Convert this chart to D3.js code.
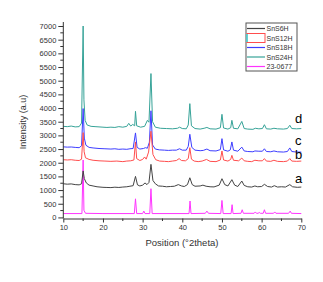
<!DOCTYPE html>
<html>
<head>
<meta charset="utf-8">
<script src="https://cdn.jsdelivr.net/npm/d3@7"></script>
<style>
  html, body { margin: 0; padding: 0; background: #fff; }
  svg { display: block; font-family: "Liberation Sans", Arial, sans-serif; }
</style>
</head>
<body>
<div id="chart"></div>
<script>
// Series names (legend order) and curve labels
const seriesNames = ["SnS6H", "SnS12H", "SnS18H", "SnS24H", "23-0677"];
const curveLabels = ["a", "b", "c", "d"];

// [2theta, intensity]
const sns6h = [[10,1230],[11,1215],[12,1225],[13,1200],[14,1190],[14.6,1230],[15.0,1700],[15.3,1420],[15.8,1260],[16.5,1180],[17.5,1150],[18.5,1120],[20,1100],[21,1095],[22,1090],[23,1105],[24,1095],[25,1110],[26,1120],[26.8,1140],[27.6,1160],[28.2,1500],[28.7,1190],[29.3,1150],[30,1180],[30.6,1260],[31.1,1200],[31.6,1280],[32.1,1940],[32.6,1350],[33.2,1230],[34,1150],[35,1140],[36,1120],[37,1130],[38,1140],[39,1200],[39.8,1150],[40.5,1130],[41.3,1200],[41.9,1450],[42.5,1200],[43.2,1140],[44.5,1150],[45.2,1180],[46,1140],[47,1120],[48,1115],[49.3,1180],[50,1415],[50.7,1200],[51.5,1150],[52.5,1380],[53.2,1180],[54,1130],[55,1330],[55.6,1170],[56.5,1120],[57.5,1110],[58.3,1150],[59,1120],[60,1130],[60.7,1210],[61.5,1130],[62.5,1110],[63.2,1160],[64,1110],[65,1120],[66,1110],[67.1,1200],[67.8,1120],[69,1100],[70,1110]];

const sns12h = [[10,2110],[11,2100],[12,2110],[13,2090],[14,2080],[14.6,2130],[15.0,3100],[15.25,2400],[15.6,2180],[16.5,2120],[17.5,2090],[19,2070],[20.5,2060],[22,2050],[23.5,2060],[25,2040],[26,2060],[27,2070],[27.8,2100],[28.2,2760],[28.5,2150],[29.3,2080],[30.0,2120],[30.5,2210],[30.9,2130],[31.5,2390],[32.1,3150],[32.6,2300],[33.3,2110],[34.3,2060],[35.5,2050],[36.5,2040],[37.5,2060],[38.5,2080],[39.2,2150],[39.8,2080],[40.8,2070],[41.5,2150],[41.9,2550],[42.3,2130],[43,2060],[44,2040],[45,2060],[46.1,2120],[47,2050],[48.5,2040],[49.6,2100],[50,2430],[50.4,2100],[51.5,2060],[52.2,2120],[52.5,2270],[52.9,2090],[54.2,2070],[55,2170],[55.6,2070],[56.5,2050],[57.5,2040],[58.3,2090],[59.3,2070],[60.2,2070],[60.7,2150],[61.2,2060],[62.3,2050],[63.1,2090],[64,2050],[65.5,2040],[66.5,2060],[67.1,2150],[67.6,2060],[68.8,2050],[70,2060]];

const sns18h = [[10,2580],[11,2570],[12,2575],[13,2560],[14,2550],[14.6,2620],[15.0,3980],[15.3,2900],[15.7,2640],[16.5,2560],[17.5,2540],[19,2520],[20.5,2510],[22,2500],[23,2510],[24,2490],[25,2500],[26,2490],[26.8,2510],[27.6,2520],[28.2,3090],[28.6,2560],[29.3,2500],[30.2,2520],[30.7,2550],[31.2,2530],[31.7,2750],[32.1,3900],[32.5,2650],[33.2,2500],[34.2,2470],[35.5,2460],[36.5,2450],[37.5,2460],[38.5,2460],[39.3,2510],[40,2460],[41,2460],[41.5,2600],[41.9,3040],[42.4,2560],[43.2,2460],[44.5,2440],[45.3,2450],[46.2,2500],[47,2440],[48.5,2430],[49.6,2480],[50,2880],[50.4,2470],[51.5,2420],[52.1,2470],[52.5,2760],[52.9,2460],[54,2420],[55,2570],[55.6,2430],[56.5,2410],[57.8,2400],[58.3,2430],[59.3,2420],[60.2,2420],[60.7,2510],[61.2,2410],[62.3,2400],[63.1,2430],[64,2400],[65.5,2390],[66.5,2410],[67.1,2540],[67.6,2410],[68.8,2390],[70,2390]];

const sns24h = [[10,3330],[11,3320],[12,3340],[13,3310],[14,3320],[14.6,3450],[15.0,7000],[15.2,4300],[15.5,3550],[16,3380],[17,3330],[18,3320],[19,3310],[20,3300],[21,3290],[22,3300],[23,3290],[24,3320],[25,3300],[26,3330],[26.5,3440],[27,3340],[27.5,3400],[28,3350],[28.2,3880],[28.5,3350],[29.5,3300],[30.5,3330],[31.2,3550],[31.6,3480],[32.1,5260],[32.5,3500],[33.2,3300],[34.5,3260],[36,3250],[37.5,3240],[38.8,3260],[39.3,3300],[40,3250],[41,3240],[41.5,3380],[41.9,4160],[42.3,3350],[43.2,3250],[44.5,3230],[45.5,3260],[46.2,3290],[47,3240],[48.5,3230],[49.6,3280],[50,3770],[50.4,3270],[51.5,3230],[52.2,3280],[52.5,3550],[52.9,3260],[54,3240],[55,3510],[55.6,3250],[56.5,3230],[57.8,3220],[58.4,3260],[59.3,3240],[60.2,3250],[60.7,3390],[61.2,3240],[62.3,3230],[63.1,3260],[64,3240],[65.5,3230],[66.5,3250],[67.1,3370],[67.6,3250],[68.8,3240],[70,3250]];

const ref230677 = [[10,140],[14.7,140],[15.0,2100],[15.2,260],[15.6,150],[20,140],[27.9,140],[28.2,680],[28.5,140],[30.0,140],[30.3,230],[30.6,140],[31.8,140],[32.1,1050],[32.4,140],[41.7,140],[41.95,600],[42.2,140],[45.8,150],[46.2,230],[46.6,150],[49.7,140],[50.0,620],[50.3,140],[52.3,140],[52.55,465],[52.8,140],[54.8,150],[55.1,280],[55.4,150],[58.1,150],[58.4,200],[58.7,150],[59.1,150],[59.4,180],[59.7,150],[60.4,150],[60.7,280],[61.0,150],[63.0,150],[63.3,200],[63.6,150],[66.8,150],[67.2,230],[67.5,150],[70,140]];

// label placement (intensity level next to the right end of each curve)
const labelLevels = [1400, 2270, 2810, 3610];

const xTicks = [10, 20, 30, 40, 50, 60, 70];
const yTicks = [0, 500, 1000, 1500, 2000, 2500, 3000, 3500, 4000, 4500, 5000, 5500, 6000, 6500, 7000];

const colors = ["#444444", "#ff4d4d", "#3d3dff", "#36a398", "#ff33ff"];
const allData = [sns6h, sns12h, sns18h, sns24h, ref230677];

const width = 323, height = 282;

const svg = d3.select("#chart").append("svg")
  .attr("width", width)
  .attr("height", height);

// scales
const x = d3.scaleLinear().domain([10, 70]).range([63.3, 301.3]);
const y = d3.scaleLinear().domain([-40, 7000]).range([218.5, 26]);

// draw curves (reference first, SnS6H last so it sits on top)
const line = d3.line()
  .x(d => x(d[0]))
  .y(d => y(d[1]));

const drawOrder = [4, 3, 2, 1, 0];
drawOrder.forEach(i => {
  svg.append("path")
    .datum(allData[i])
    .attr("fill", "none")
    .attr("stroke", colors[i])
    .attr("stroke-width", 1)
    .attr("stroke-linejoin", "round")
    .attr("d", line);
});

// y axis
const yAxis = svg.append("g")
  .attr("transform", `translate(${x(10)},0)`)
  .call(d3.axisLeft(y).tickValues(yTicks).tickFormat(d3.format("d"))
    .tickSize(5).tickPadding(2).tickSizeOuter(0));
yAxis.select(".domain").attr("d", `M0,${y(-40)}V${y(7000) - 4}`);
// minor ticks
svg.append("g")
  .selectAll("line")
  .data(d3.range(250, 7000, 500))
  .join("line")
  .attr("x1", x(10) - 3).attr("x2", x(10))
  .attr("y1", d => y(d)).attr("y2", d => y(d))
  .attr("stroke", "#333");

// x axis
const xAxis = svg.append("g")
  .attr("transform", `translate(0,${y(-40)})`)
  .call(d3.axisBottom(x).tickValues(xTicks).tickSize(4).tickPadding(2).tickSizeOuter(0));
svg.append("g")
  .selectAll("line")
  .data([15, 25, 35, 45, 55, 65])
  .join("line")
  .attr("x1", d => x(d)).attr("x2", d => x(d))
  .attr("y1", y(-40)).attr("y2", y(-40) + 2.5)
  .attr("stroke", "#333");

[xAxis, yAxis].forEach(a => {
  a.selectAll("text").attr("font-size", "7.5px").attr("fill", "#333")
    .attr("font-family", "'Liberation Sans', Arial, sans-serif");
  a.selectAll("line, path").attr("stroke", "#333");
});

// axis titles
svg.append("text")
  .attr("x", 182)
  .attr("y", 246)
  .attr("text-anchor", "middle")
  .attr("font-size", "9.5px")
  .attr("fill", "#333")
  .text("Position (°2theta)");

svg.append("text")
  .attr("transform", `translate(25.5,122) rotate(-90)`)
  .attr("text-anchor", "middle")
  .attr("font-size", "9px")
  .attr("fill", "#333")
  .text("Intensity (a.u)");

// curve letters
svg.append("g")
  .selectAll("text")
  .data(curveLabels)
  .join("text")
  .attr("x", 295)
  .attr("y", (d, i) => y(labelLevels[i]) + 4)
  .attr("font-size", "13px")
  .attr("fill", "#000")
  .text(d => d);

// legend
const legend = svg.append("g").attr("transform", "translate(246,23)");
legend.append("rect")
  .attr("width", 51).attr("height", 48)
  .attr("fill", "#fff").attr("stroke", "#555").attr("stroke-width", 1);

seriesNames.forEach((name, i) => {
  const ly = 5.5 + i * 9.5;
  if (i === 1) {
    legend.append("rect")
      .attr("x", 1).attr("y", ly - 4.5).attr("width", 18).attr("height", 9)
      .attr("fill", "none").attr("stroke", colors[i]).attr("stroke-width", 1);
    legend.append("line")
      .attr("x1", 1).attr("x2", 1).attr("y1", ly - 4).attr("y2", ly + 4)
      .attr("stroke", "#33e0e0").attr("stroke-width", 1.5);
  } else {
    legend.append("line")
      .attr("x1", 1).attr("x2", 19).attr("y1", ly).attr("y2", ly)
      .attr("stroke", colors[i]).attr("stroke-width", 1.2);
  }
  legend.append("text")
    .attr("x", 20.5).attr("y", ly + 2.6)
    .attr("font-size", "7px")
    .attr("fill", "#333")
    .text(name);
});
</script>
</body>
</html>
